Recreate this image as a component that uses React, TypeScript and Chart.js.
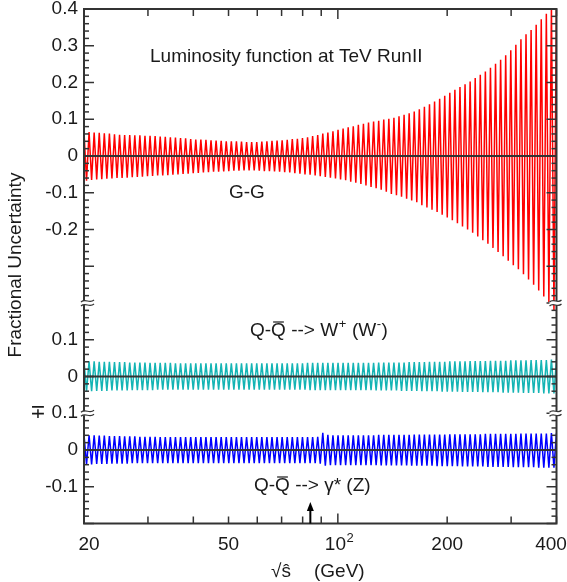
import React, { useEffect, useRef } from 'react';
import { Chart, registerables } from 'chart.js';

Chart.register(...registerables);

// ---------- axis definitions ----------
const X_MIN = 20;
const X_MAX = 400;
const xTickValues = [20, 30, 40, 50, 60, 70, 80, 90, 100, 200, 300, 400];
const xTickLabels: { [k: number]: string } = { 20: '20', 50: '50', 100: '10', 200: '200', 400: '400' };
const Y_MIN = -1.0;
const Y_MAX = 0.4;
// labels keyed by value in hundredths of the stacked y axis
const yTickLabels: { [k: number]: string } = {
  40: '0.4', 30: '0.3', 20: '0.2', 10: '0.1', 0: '0', [-10]: '-0.1', [-20]: '-0.2',
  [-50]: '0.1', [-60]: '0', [-70]: '\u2213 0.1', [-80]: '0', [-90]: '-0.1',
};
const breakValues = [-0.4, -0.7];
// panel zero offsets on the stacked y axis
const ggOffset = 0;
const wOffset = -0.6;
const zOffset = -0.8;
const arrowMass = 84;

// ---------- data: fractional uncertainty, upper and lower excursions ----------
const redTop = [
  0.066, 0.065, 0.064, 0.063, 0.062, 0.061, 0.059, 0.058, 0.057, 0.057,
  0.056, 0.056, 0.055, 0.055, 0.054, 0.053, 0.052, 0.051, 0.050, 0.049,
  0.048, 0.046, 0.045, 0.045, 0.044, 0.043, 0.042, 0.041, 0.040, 0.040,
  0.040, 0.039, 0.038, 0.038, 0.038, 0.039, 0.040, 0.041, 0.042, 0.043,
  0.044, 0.046, 0.047, 0.049, 0.051, 0.054, 0.057, 0.061, 0.064, 0.067,
  0.071, 0.075, 0.078, 0.081, 0.085, 0.088, 0.091, 0.094, 0.096, 0.099,
  0.101, 0.104, 0.108, 0.112, 0.116, 0.121, 0.127, 0.134, 0.141, 0.148,
  0.156, 0.164, 0.172, 0.180, 0.188, 0.195, 0.203, 0.212, 0.221, 0.230,
  0.240, 0.251, 0.262, 0.274, 0.288, 0.303, 0.318, 0.331, 0.343, 0.357,
  0.372, 0.387, 0.410, 0.440,
];
const redBot = [
  -0.067, -0.065, -0.064, -0.063, -0.062, -0.061, -0.060, -0.060, -0.059, -0.058,
  -0.057, -0.056, -0.055, -0.054, -0.053, -0.053, -0.052, -0.051, -0.050, -0.049,
  -0.048, -0.047, -0.046, -0.045, -0.044, -0.043, -0.043, -0.042, -0.041, -0.040,
  -0.040, -0.039, -0.039, -0.039, -0.040, -0.041, -0.041, -0.042, -0.043, -0.044,
  -0.045, -0.047, -0.048, -0.050, -0.051, -0.053, -0.055, -0.057, -0.059, -0.061,
  -0.064, -0.066, -0.070, -0.073, -0.076, -0.080, -0.084, -0.088, -0.092, -0.097,
  -0.103, -0.107, -0.111, -0.116, -0.121, -0.126, -0.134, -0.140, -0.146, -0.152,
  -0.160, -0.167, -0.175, -0.183, -0.192, -0.200, -0.209, -0.219, -0.229, -0.239,
  -0.250, -0.261, -0.273, -0.285, -0.297, -0.308, -0.322, -0.336, -0.350, -0.366,
  -0.382, -0.398, -0.420,
];
const cyanTop = [
  0.042, 0.041, 0.041, 0.040, 0.040, 0.040, 0.039, 0.039, 0.039, 0.038,
  0.038, 0.038, 0.038, 0.037, 0.037, 0.037, 0.037, 0.037, 0.036, 0.036,
  0.036, 0.036, 0.036, 0.036, 0.036, 0.036, 0.036, 0.036, 0.036, 0.036,
  0.036, 0.036, 0.036, 0.036, 0.036, 0.036, 0.036, 0.036, 0.036, 0.036,
  0.036, 0.036, 0.036, 0.036, 0.037, 0.037, 0.037, 0.037, 0.037, 0.037,
  0.037, 0.037, 0.037, 0.037, 0.037, 0.037, 0.037, 0.037, 0.038, 0.038,
  0.038, 0.038, 0.038, 0.038, 0.039, 0.039, 0.039, 0.039, 0.040, 0.040,
  0.040, 0.040, 0.041, 0.041, 0.041, 0.041, 0.042, 0.042, 0.042, 0.042,
  0.043, 0.043, 0.043, 0.043, 0.044, 0.044, 0.044, 0.044, 0.045, 0.045,
  0.045, 0.045, 0.046, 0.046,
];
const cyanBot = [
  -0.040, -0.040, -0.039, -0.039, -0.039, -0.038, -0.038, -0.038, -0.038, -0.037,
  -0.037, -0.037, -0.037, -0.037, -0.036, -0.036, -0.036, -0.036, -0.036, -0.036,
  -0.036, -0.036, -0.036, -0.036, -0.036, -0.036, -0.036, -0.036, -0.036, -0.036,
  -0.036, -0.036, -0.036, -0.036, -0.036, -0.036, -0.036, -0.036, -0.036, -0.036,
  -0.036, -0.036, -0.036, -0.036, -0.037, -0.037, -0.037, -0.037, -0.037, -0.037,
  -0.037, -0.037, -0.037, -0.037, -0.037, -0.037, -0.037, -0.038, -0.038, -0.038,
  -0.038, -0.038, -0.039, -0.039, -0.039, -0.039, -0.040, -0.040, -0.040, -0.040,
  -0.041, -0.041, -0.041, -0.041, -0.042, -0.042, -0.042, -0.042, -0.043, -0.043,
  -0.043, -0.043, -0.044, -0.044, -0.044, -0.044, -0.045, -0.045, -0.045, -0.045,
  -0.046, -0.046, -0.046,
];
const blueTop = [
  0.041, 0.040, 0.040, 0.039, 0.039, 0.038, 0.038, 0.038, 0.037, 0.037,
  0.037, 0.036, 0.036, 0.036, 0.036, 0.035, 0.035, 0.035, 0.035, 0.035,
  0.035, 0.035, 0.035, 0.035, 0.035, 0.035, 0.035, 0.035, 0.035, 0.035,
  0.035, 0.035, 0.035, 0.035, 0.035, 0.035, 0.035, 0.035, 0.035, 0.035,
  0.035, 0.035, 0.035, 0.035, 0.035, 0.035, 0.036, 0.047, 0.041, 0.040,
  0.040, 0.040, 0.040, 0.040, 0.040, 0.040, 0.040, 0.040, 0.041, 0.041,
  0.041, 0.041, 0.041, 0.041, 0.041, 0.042, 0.042, 0.042, 0.042, 0.042,
  0.042, 0.042, 0.043, 0.043, 0.043, 0.043, 0.043, 0.043, 0.043, 0.044,
  0.044, 0.044, 0.044, 0.044, 0.044, 0.044, 0.045, 0.045, 0.045, 0.045,
  0.045, 0.045, 0.046, 0.046,
];
const blueBot = [
  -0.039, -0.039, -0.038, -0.038, -0.038, -0.037, -0.037, -0.037, -0.037, -0.036,
  -0.036, -0.036, -0.036, -0.036, -0.036, -0.036, -0.036, -0.036, -0.036, -0.036,
  -0.036, -0.036, -0.036, -0.036, -0.036, -0.036, -0.036, -0.036, -0.036, -0.036,
  -0.036, -0.036, -0.036, -0.036, -0.036, -0.036, -0.036, -0.036, -0.036, -0.036,
  -0.036, -0.036, -0.036, -0.036, -0.036, -0.036, -0.037, -0.043, -0.041, -0.041,
  -0.041, -0.041, -0.041, -0.041, -0.041, -0.041, -0.041, -0.041, -0.042, -0.042,
  -0.042, -0.042, -0.042, -0.042, -0.043, -0.043, -0.043, -0.043, -0.043, -0.044,
  -0.044, -0.044, -0.044, -0.044, -0.045, -0.045, -0.045, -0.045, -0.045, -0.046,
  -0.046, -0.046, -0.046, -0.046, -0.047, -0.047, -0.047, -0.047, -0.047, -0.048,
  -0.048, -0.048, -0.048,
];

const FONT = '"Liberation Sans", Arial, Helvetica, sans-serif';
const FS = 19;
const INK = '#1a1a1a';
const AXIS = '#333333';

function zigzag(top: number[], bot: number[], offset: number) {
  const pts: { x: number; y: number }[] = [];
  for (let i = 0; i < top.length; i++) {
    pts.push({ x: 2 * i, y: top[i] + offset });
    if (i < bot.length) pts.push({ x: 2 * i + 1, y: bot[i] + offset });
  }
  return pts;
}

function yTickValues(): number[] {
  const out: number[] = [];
  for (let h = Math.round(Y_MIN * 100); h <= Math.round(Y_MAX * 100); h += 2) out.push(h / 100);
  return out;
}

const decorPlugin = {
  id: 'decor',
  afterDatasetsDraw(chart: any) {
    const { ctx, chartArea } = chart;
    const { left, right, top, bottom } = chartArea;
    const xs = chart.scales.x;
    const ys = chart.scales.y;
    const seg = (x1: number, y1: number, x2: number, y2: number) => {
      ctx.beginPath();
      ctx.moveTo(x1, y1);
      ctx.lineTo(x2, y2);
      ctx.stroke();
    };
    ctx.save();
    // inward ticks
    ctx.strokeStyle = AXIS;
    ctx.lineWidth = 1.5;
    for (const v of yTickValues()) {
      const py = ys.getPixelForValue(v);
      const major = Math.round(v * 100) % 10 === 0;
      const len = major ? 10 : 5;
      seg(left, py, left + len, py);
      seg(right, py, right - len, py);
    }
    for (const v of xTickValues) {
      const px = xs.getPixelForValue(v);
      const len = v === 100 ? 10 : 7;
      seg(px, bottom, px, bottom - len);
      seg(px, top, px, top + len);
    }
    // frame
    ctx.lineWidth = 2;
    ctx.strokeRect(left, top, right - left, bottom - top);

    // axis breaks
    ctx.lineWidth = 1.2;
    for (const bv of breakValues) {
      const py = ys.getPixelForValue(bv);
      for (const [x0, w] of [[left - 3, 13], [right - 7, 12]]) {
        ctx.fillStyle = '#ffffff';
        ctx.fillRect(x0, py - 2, w, 4);
        for (const off of [-2, 2]) {
          ctx.beginPath();
          ctx.moveTo(x0, py + off + 1);
          ctx.bezierCurveTo(x0 + w / 3, py + off - 3, x0 + (2 * w) / 3, py + off + 3, x0 + w, py + off - 1);
          ctx.stroke();
        }
      }
    }

    // x tick labels
    ctx.fillStyle = INK;
    ctx.textBaseline = 'middle';
    ctx.textAlign = 'center';
    ctx.font = `${FS}px ${FONT}`;
    const labelY = 545;
    for (const v of xTickValues) {
      const lab = xTickLabels[v];
      if (!lab) continue;
      let px = xs.getPixelForValue(v);
      if (v === X_MIN) px += 5;
      if (v === X_MAX) px -= 5.5;
      if (v === 100) {
        const w = ctx.measureText(lab).width;
        ctx.textAlign = 'left';
        ctx.fillText(lab, px - 13, labelY);
        ctx.font = `13px ${FONT}`;
        ctx.fillText('2', px - 13 + w + 0.5, labelY - 7);
        ctx.font = `${FS}px ${FONT}`;
        ctx.textAlign = 'center';
      } else {
        ctx.fillText(lab, px, labelY);
      }
    }
    // x title
    ctx.textAlign = 'left';
    ctx.fillText('\u221As\u0302', 271, 572);
    ctx.fillText('(GeV)', 314, 572);

    // y title
    ctx.save();
    ctx.translate(16, 265);
    ctx.rotate(-Math.PI / 2);
    ctx.textAlign = 'center';
    ctx.fillText('Fractional Uncertainty', 0, 0);
    ctx.restore();

    // annotations
    ctx.textAlign = 'left';
    ctx.fillText('Luminosity function at TeV RunII', 150, 57);
    ctx.fillText('G-G', 229, 193);

    const drawProcess = (x: number, y: number, parts: { t: string; sup?: boolean }[]) => {
      let cx = x;
      const qw = ctx.measureText('Q-').width;
      const q2 = ctx.measureText('Q').width;
      for (const p of parts) {
        if (p.sup) {
          ctx.font = `13px ${FONT}`;
          ctx.fillText(p.t, cx + 0.5, y - 7);
          cx += ctx.measureText(p.t).width + 1;
          ctx.font = `${FS}px ${FONT}`;
        } else {
          ctx.fillText(p.t, cx, y);
          cx += ctx.measureText(p.t).width;
        }
      }
      // bar over the anti-quark
      ctx.strokeStyle = INK;
      ctx.lineWidth = 1.2;
      seg(x + qw + 2, y - 9, x + qw + q2 - 2, y - 9);
    };
    drawProcess(250, 331, [
      { t: 'Q-Q --> W' }, { t: '+', sup: true }, { t: ' (W' }, { t: '-', sup: true }, { t: ')' },
    ]);
    drawProcess(254, 486, [{ t: 'Q-Q --> \u03B3* (Z)' }]);

    // arrow at the W mass
    const ax = xs.getPixelForValue(arrowMass);
    ctx.strokeStyle = '#000';
    ctx.fillStyle = '#000';
    ctx.lineWidth = 2;
    seg(ax, bottom, ax, 510);
    ctx.beginPath();
    ctx.moveTo(ax, 502);
    ctx.lineTo(ax - 3.5, 511);
    ctx.lineTo(ax + 3.5, 511);
    ctx.closePath();
    ctx.fill();
    ctx.restore();
  },
};

export default function App() {
  const ref = useRef<HTMLCanvasElement | null>(null);
  useEffect(() => {
    document.body.style.margin = '0';
    const canvas = ref.current;
    if (!canvas) return;
    const zeroLine = (off: number) => [
      { x: X_MIN, y: off },
      { x: X_MAX, y: off },
    ];
    const zig = (data: any, color: string) => ({
      data,
      xAxisID: 'xi',
      yAxisID: 'y',
      borderColor: color,
      borderWidth: 1.5,
      pointRadius: 0,
      tension: 0,
      fill: false,
    });
    const zl = (off: number) => ({
      data: zeroLine(off),
      xAxisID: 'x',
      yAxisID: 'y',
      borderColor: AXIS,
      borderWidth: 1.8,
      pointRadius: 0,
      fill: false,
    });
    const chart = new Chart(canvas, {
      type: 'line',
      data: {
        datasets: [
          zl(ggOffset),
          zl(wOffset),
          zl(zOffset),
          zig(zigzag(redTop, redBot, ggOffset), 'rgb(255,0,0)'),
          zig(zigzag(cyanTop, cyanBot, wOffset), 'rgb(20,180,180)'),
          zig(zigzag(blueTop, blueBot, zOffset), 'rgb(0,0,255)'),
        ] as any,
      },
      options: {
        animation: false,
        responsive: false,
        devicePixelRatio: 1,
        parsing: true,
        layout: { padding: { top: 9, right: 10.5, left: 0, bottom: 58.5 } },
        plugins: { legend: { display: false }, tooltip: { enabled: false } },
        events: [],
        scales: {
          x: { type: 'logarithmic', min: X_MIN, max: X_MAX, display: false },
          xi: { type: 'linear', min: 0, max: 2 * (redTop.length - 1), display: false },
          y: {
            type: 'linear',
            min: Y_MIN,
            max: Y_MAX,
            grid: { display: false, drawTicks: false },
            border: { display: false },
            afterBuildTicks: (s: any) => {
              s.ticks = yTickValues().map((v) => ({ value: v }));
            },
            afterFit: (s: any) => {
              s.width = 84;
              s.paddingTop = 0;
              s.paddingBottom = 0;
            },
            ticks: {
              autoSkip: false,
              padding: 6,
              color: INK,
              font: { family: FONT, size: FS },
              callback: (v: any) => {
                const k = Math.round(Number(v) * 100);
                return yTickLabels[k] !== undefined ? yTickLabels[k] : '';
              },
            },
          },
        },
      } as any,
      plugins: [decorPlugin],
    });
    return () => chart.destroy();
  }, []);
  return (
    <div style={{ position: 'absolute', left: 0, top: 0, width: 567, height: 582, background: '#fff' }}>
      <canvas ref={ref} width={567} height={582} style={{ display: 'block' }} />
    </div>
  );
}
